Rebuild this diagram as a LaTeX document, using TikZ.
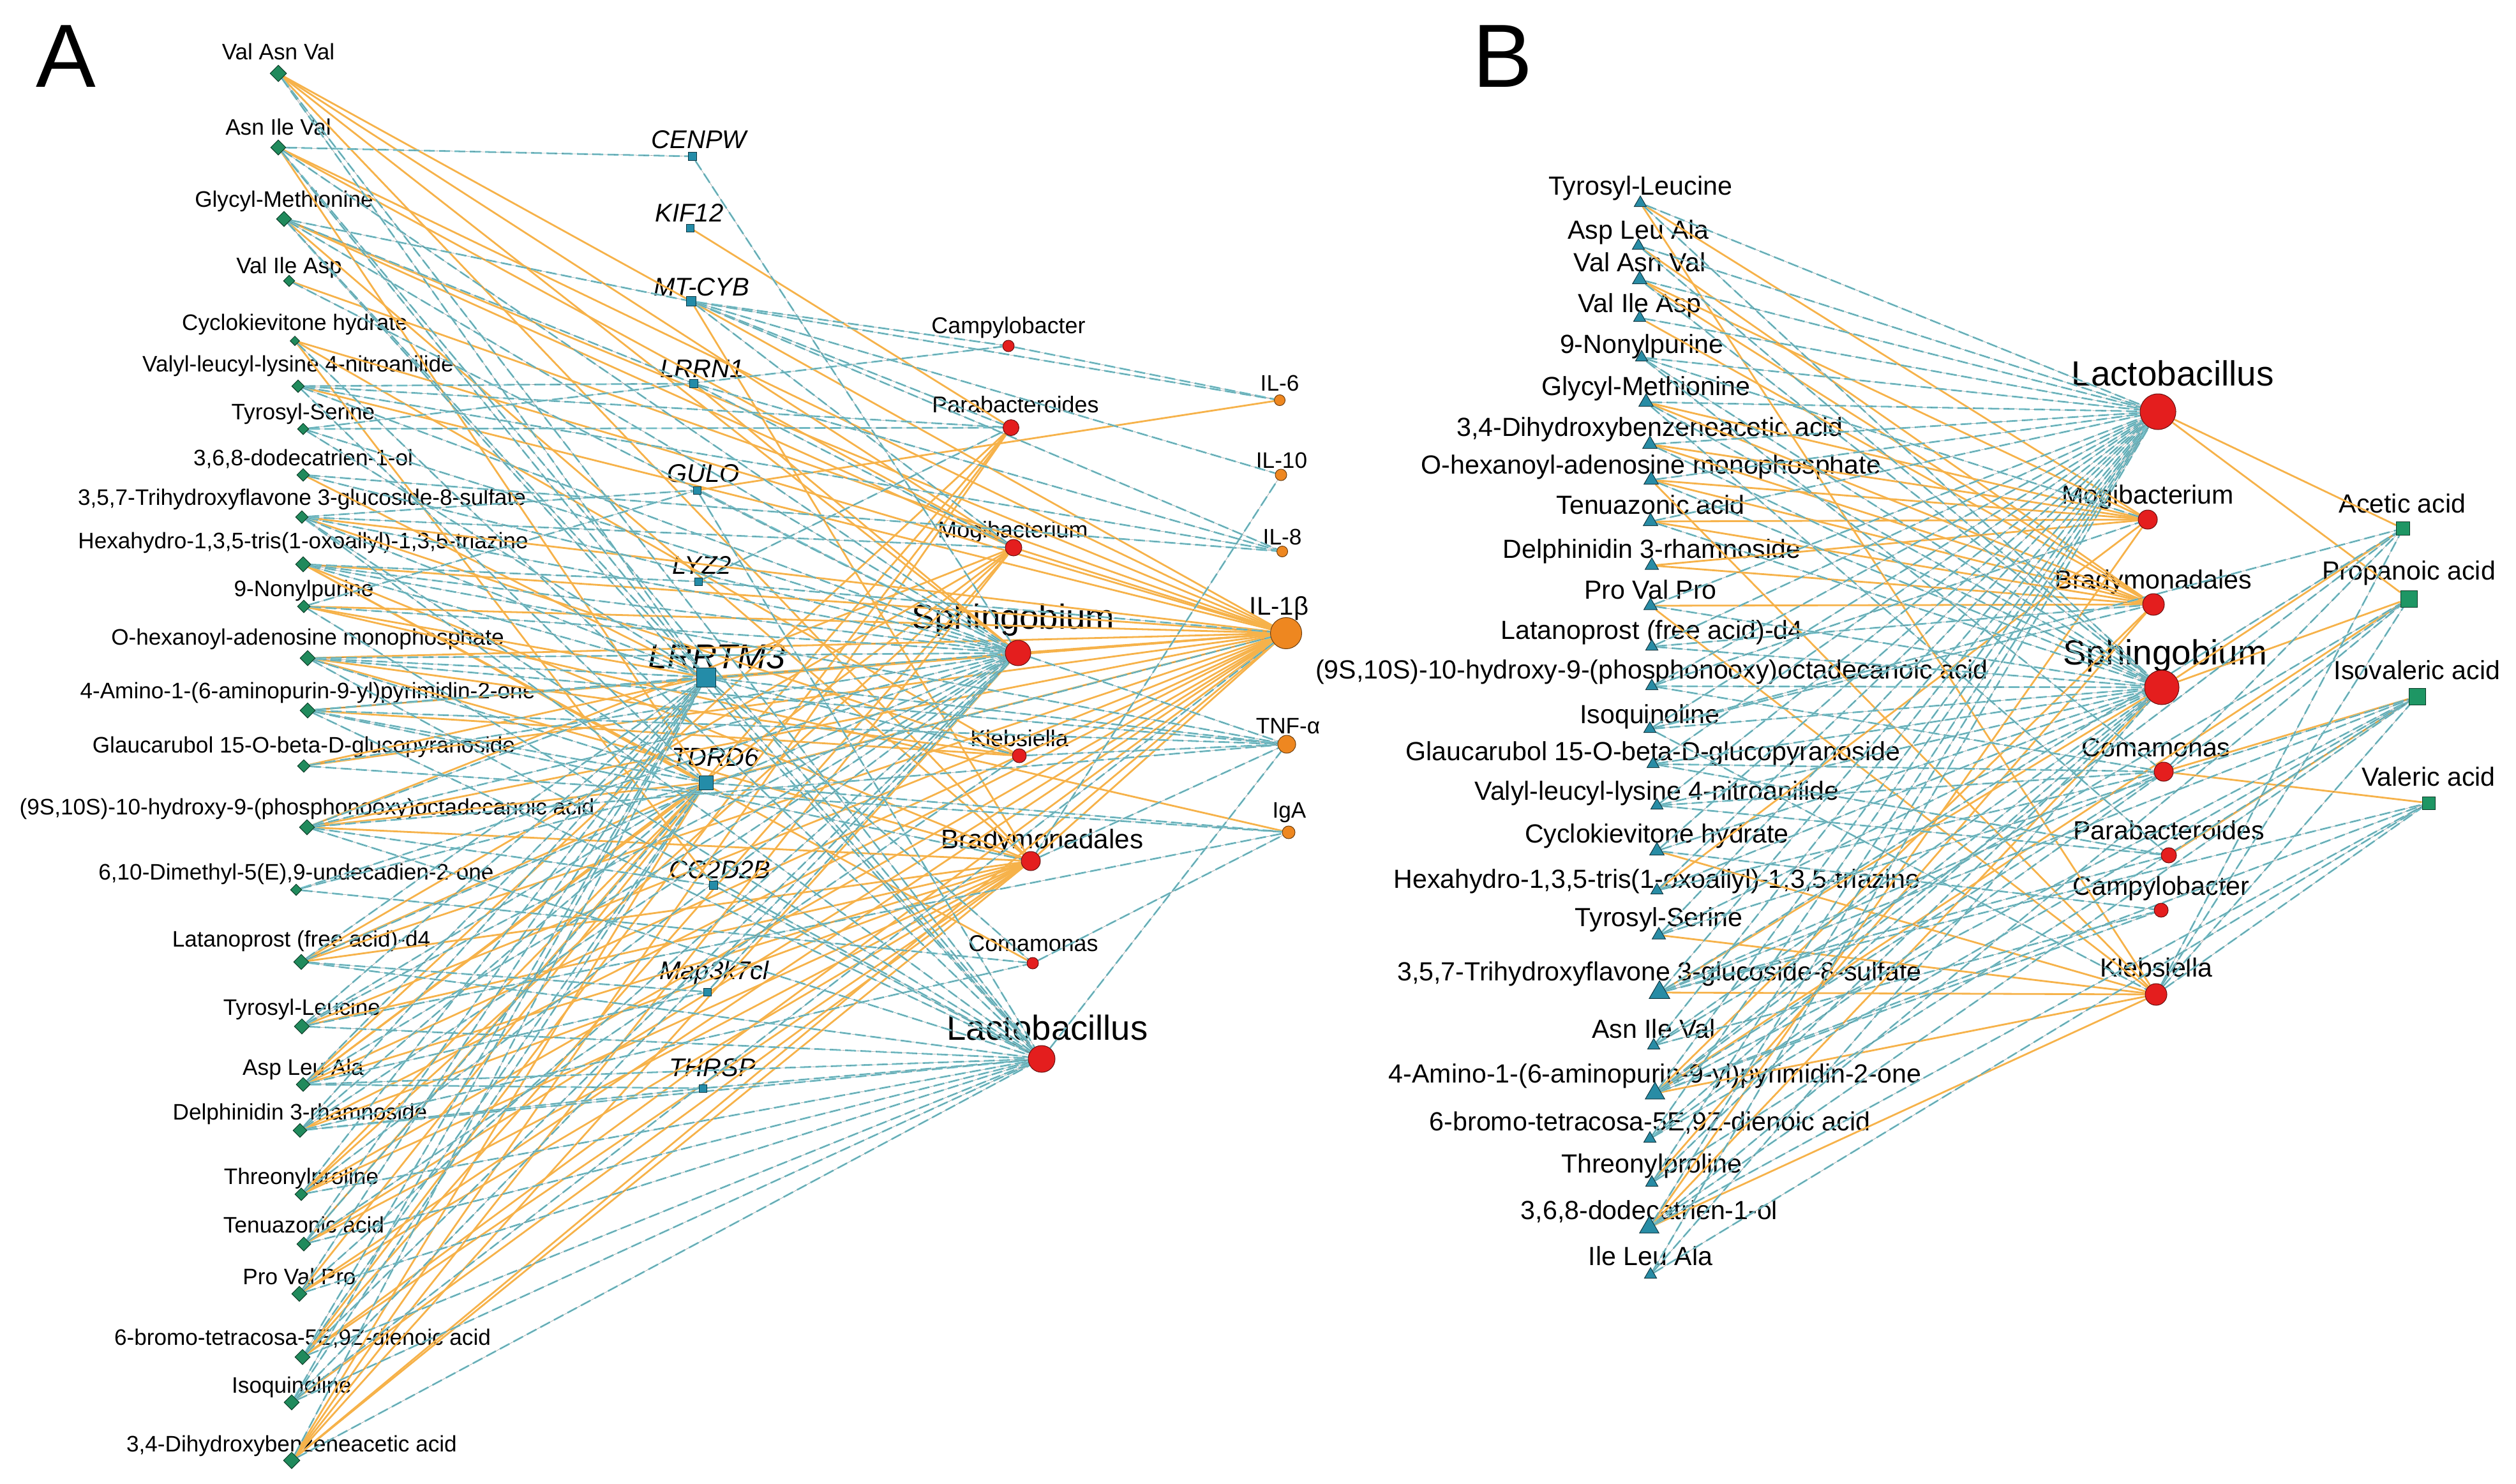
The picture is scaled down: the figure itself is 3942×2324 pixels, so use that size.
\documentclass[tikz,border=0pt]{standalone}
\usepackage{fontspec}
\setmainfont{Liberation Sans}
\usetikzlibrary{shapes.geometric}
\pgfdeclarelayer{labs}
\pgfdeclarelayer{edges}
\pgfsetlayers{labs,edges,main}
\definecolor{eorange}{RGB}{246,178,74}
\definecolor{ecyan}{RGB}{118,200,210}
\definecolor{mgreen}{RGB}{32,138,92}
\definecolor{gblue}{RGB}{36,140,168}
\definecolor{bred}{RGB}{228,30,30}
\definecolor{corange}{RGB}{238,135,32}
\definecolor{tblue}{RGB}{40,140,165}
\definecolor{sgreen}{RGB}{30,150,100}
\newcommand\fsz[1]{\fontsize{#1}{#1}\selectfont}
\tikzset{
  ep/.style={draw=eorange, line width=0.28mm},
  en/.style={draw=ecyan, line width=0.28mm, dash pattern=on 1.7mm off 0.7mm,
             postaction={draw=black!65, line width=0.08pt, solid}},
  dia/.style={diamond, fill=mgreen, draw=mgreen!45!black, line width=0.1mm, inner sep=0},
  gsq/.style={rectangle, fill=gblue, draw=gblue!40!black, line width=0.1mm, inner sep=0},
  bac/.style={circle, fill=bred, draw=bred!45!black, line width=0.1mm, inner sep=0},
  cyt/.style={circle, fill=corange, draw=corange!45!black, line width=0.1mm, inner sep=0},
  tri/.style={regular polygon, regular polygon sides=3, fill=tblue, draw=tblue!40!black, line width=0.1mm, inner sep=0},
  ssq/.style={rectangle, fill=sgreen, draw=sgreen!40!black, line width=0.1mm, inner sep=0},
  labA/.style={anchor=base, inner sep=0, font=\fsz{10pt}},
  labG/.style={anchor=base, inner sep=0, font=\fsz{11.4pt}\itshape},
  labS/.style={anchor=base, inner sep=0, font=\fsz{10.2pt}},
  labB/.style={anchor=base, inner sep=0, font=\fsz{11.7pt}},
  labBig/.style={anchor=base, inner sep=0, font=\fsz{15.5pt}},
  panel/.style={inner sep=0, font=\fsz{40pt}}
}
\begin{document}
\begin{tikzpicture}[x=0.1mm,y=-0.1mm]
\useasboundingbox (0,0) rectangle (3942,2324);
\node[panel] (pA) at (103,88) {A};
\node[panel] (pB) at (2354,88) {B};

% ---------------- Panel A metabolites ----------------
\foreach \i/\xx/\yy/\ly/\sz/\tx in {
 1/436/115/81/26/{Val Asn Val},
 2/436/231/199/24/{Asn Ile Val},
 3/445/343/312/24/{Glycyl-Methionine},
 4/453/440/416/18/{Val Ile Asp},
 5/462/534/505/15/{Cyclokievitone hydrate},
 6/467/605/570/20/{Valyl-leucyl-lysine 4-nitroanilide},
 7/475/672/645/18/{Tyrosyl-Serine},
 8/475/744/717/20/{3,6,8-dodecatrien-1-ol},
 9/473/810/779/20/{3,5,7-Trihydroxyflavone 3-glucoside-8-sulfate},
 10/475/884/847/24/{Hexahydro-1,3,5-tris(1-oxoallyl)-1,3,5-triazine},
 11/476/950/922/20/{9-Nonylpurine},
 12/482/1031/998/24/{O-hexanoyl-adenosine monophosphate},
 13/482/1113/1082/24/{4-Amino-1-(6-aminopurin-9-yl)pyrimidin-2-one},
 14/476/1200/1167/20/{Glaucarubol 15-O-beta-D-glucopyranoside},
 15/481/1296/1264/24/{(9S,10S)-10-hydroxy-9-(phosphonooxy)octadecanoic acid},
 16/464/1394/1366/18/{6,10-Dimethyl-5(E),9-undecadien-2-one},
 17/472/1507/1471/24/{Latanoprost (free acid)-d4},
 18/473/1608/1578/24/{Tyrosyl-Leucine},
 19/475/1699/1672/22/{Asp Leu Ala},
 20/470/1771/1742/22/{Delphinidin 3-rhamnoside},
 21/472/1871/1843/20/{Threonylproline},
 22/476/1949/1919/22/{Tenuazonic acid},
 23/469/2027/2000/24/{Pro Val Pro},
 24/474/2126/2095/24/{6-bromo-tetracosa-5E,9Z-dienoic acid},
 25/457/2197/2170/24/{Isoquinoline},
 26/457/2288/2262/26/{3,4-Dihydroxybenzeneacetic acid}}{
 \node[dia, minimum size=\sz*0.1mm] (a\i) at (\xx,\yy) {};
 \begin{pgfonlayer}{labs}
 \node[labA] (la\i) at (\xx,\ly+12.6) {\tx};
 \end{pgfonlayer}
}

% ---------------- Panel A genes ----------------
\node[gsq, minimum size=1.3mm] (g1) at (1085,245) {};
\node[gsq, minimum size=1.2mm] (g2) at (1081,357) {};
\node[gsq, minimum size=1.5mm] (g3) at (1083,472) {};
\node[gsq, minimum size=1.3mm] (g4) at (1087,601) {};
\node[gsq, minimum size=1.2mm] (g5) at (1092,768) {};
\node[gsq, minimum size=1.2mm] (g6) at (1094,911) {};
\node[gsq, minimum size=3.0mm] (g7) at (1106,1061) {};
\node[gsq, minimum size=2.2mm] (g8) at (1106,1226) {};
\node[gsq, minimum size=1.3mm] (g9) at (1118,1387) {};
\node[gsq, minimum size=1.2mm] (g10) at (1108,1554) {};
\node[gsq, minimum size=1.2mm] (g11) at (1101,1705) {};
\begin{pgfonlayer}{labs}
\node[labG] (lg1) at (1095,232) {CENPW};
\node[labG] (lg2) at (1080,347) {KIF12};
\node[labG] (lg3) at (1099,463) {MT-CYB};
\node[labG] (lg4) at (1100,591) {LRRN1};
\node[labG] (lg5) at (1102,755) {GULO};
\node[labG] (lg6) at (1100,899) {LYZ2};
\node[labG, font=\fsz{15.4pt}\itshape] (lg7) at (1123,1047) {LRRTM3};
\node[labG, font=\fsz{11.7pt}\itshape] (lg8) at (1121,1200) {TDRD6};
\node[labG] (lg9) at (1128,1376) {CC2D2B};
\node[labG] (lg10) at (1119,1534) {Map3k7cl};
\node[labG] (lg11) at (1116,1686) {THRSP};
\end{pgfonlayer}

% ---------------- Panel A bacteria ----------------
\node[bac, minimum size=1.8mm] (bCam) at (1580,542) {};
\node[bac, minimum size=2.5mm] (bP) at (1584,670) {};
\node[bac, minimum size=2.6mm] (bM) at (1588,858) {};
\node[bac, minimum size=4.0mm] (bS) at (1595,1023) {};
\node[bac, minimum size=2.2mm] (bK) at (1597,1184) {};
\node[bac, minimum size=3.0mm] (bB) at (1615,1349) {};
\node[bac, minimum size=1.8mm] (bC) at (1618,1509) {};
\node[bac, minimum size=4.2mm] (bL) at (1632,1659) {};
\begin{pgfonlayer}{labs}
\node[labS] (lbCam) at (1580,522) {Campylobacter};
\node[labS] (lbP) at (1591,646) {Parabacteroides};
\node[labS] (lbM) at (1587,842) {Mogibacterium};
\node[labBig] (lbS) at (1587,985) {Sphingobium};
\node[labS] (lbK) at (1597,1169) {Klebsiella};
\node[labS, font=\fsz{12pt}] (lbB) at (1633,1329) {Bradymonadales};
\node[labS] (lbC) at (1619,1490) {Comamonas};
\node[labBig] (lbL) at (1641,1629) {Lactobacillus};
\end{pgfonlayer}

% ---------------- Panel A cytokines ----------------
\node[cyt, minimum size=1.7mm] (c6) at (2005,627) {};
\node[cyt, minimum size=1.8mm] (c10) at (2007,744) {};
\node[cyt, minimum size=1.7mm] (c8) at (2009,864) {};
\node[cyt, minimum size=4.9mm] (cB) at (2015,992) {};
\node[cyt, minimum size=2.8mm] (cT) at (2016,1166) {};
\node[cyt, minimum size=2.0mm] (cA) at (2019,1304) {};
\begin{pgfonlayer}{labs}
\node[labA] (lc6) at (2005,612) {IL-6};
\node[labA] (lc10) at (2008,733) {IL-10};
\node[labA] (lc8) at (2009,853) {IL-8};
\node[labA, font=\fsz{11.4pt}] (lcB) at (2004,963) {IL-1β};
\node[labA] (lcT) at (2018,1149) {TNF-α};
\node[labA] (lcA) at (2020,1281) {IgA};
\end{pgfonlayer}

% ---------------- Panel B metabolites ----------------
\foreach \i/\xx/\yy/\ly/\sz/\tx in {
 1/2570/318/290/22/{Tyrosyl-Leucine},
 2/2567/385/359/22/{Asp Leu Ala},
 3/2569/438/410/26/{Val Asn Val},
 4/2569/498/474/22/{Val Ile Asp},
 5/2572/560/538/22/{9-Nonylpurine},
 6/2579/630/604/26/{Glycyl-Methionine},
 7/2585/696/668/26/{3,4-Dihydroxybenzeneacetic acid},
 8/2587/752/727/26/{O-hexanoyl-adenosine monophosphate},
 9/2586/817/790/26/{Tenuazonic acid},
 10/2588/886/859/24/{Delphinidin 3-rhamnoside},
 11/2586/949/923/24/{Pro Val Pro},
 12/2588/1013/986/22/{Latanoprost (free acid)-d4},
 13/2588/1075/1048/22/{(9S,10S)-10-hydroxy-9-(phosphonooxy)octadecanoic acid},
 14/2585/1142/1118/22/{Isoquinoline},
 15/2590/1197/1176/22/{Glaucarubol 15-O-beta-D-glucopyranoside},
 16/2596/1262/1238/22/{Valyl-leucyl-lysine 4-nitroanilide},
 17/2596/1333/1305/26/{Cyclokievitone hydrate},
 18/2596/1395/1376/22/{Hexahydro-1,3,5-tris(1-oxoallyl)-1,3,5-triazine},
 19/2599/1465/1436/24/{Tyrosyl-Serine},
 20/2600/1555/1521/37/{3,5,7-Trihydroxyflavone 3-glucoside-8-sulfate},
 21/2591/1638/1611/22/{Asn Ile Val},
 22/2593/1713/1681/35/{4-Amino-1-(6-aminopurin-9-yl)pyrimidin-2-one},
 23/2585/1784/1756/22/{6-bromo-tetracosa-5E,9Z-dienoic acid},
 24/2588/1853/1822/22/{Threonylproline},
 25/2584/1923/1895/35/{3,6,8-dodecatrien-1-ol},
 26/2586/1997/1967/22/{Ile Leu Ala}}{
 \node[tri, minimum size=\sz*0.1mm] (m\i) at (\xx,\yy) {};
 \begin{pgfonlayer}{labs}
 \node[labB] (lm\i) at (\xx,\ly+15) {\tx};
 \end{pgfonlayer}
}

% ---------------- Panel B bacteria and SCFA ----------------
\node[bac, minimum size=5.6mm] (Lb) at (3381,645) {};
\node[bac, minimum size=3.0mm] (Mb) at (3365,814) {};
\node[bac, minimum size=3.4mm] (Bb) at (3374,947) {};
\node[bac, minimum size=5.4mm] (Sb) at (3387,1077) {};
\node[bac, minimum size=3.0mm] (Cb) at (3390,1209) {};
\node[bac, minimum size=2.4mm] (Pb) at (3398,1340) {};
\node[bac, minimum size=2.2mm] (Yb) at (3386,1426) {};
\node[bac, minimum size=3.4mm] (Kb) at (3378,1558) {};
\node[ssq, minimum size=2.1mm] (sAc) at (3765,828) {};
\node[ssq, minimum size=2.6mm] (sPr) at (3774,938) {};
\node[ssq, minimum size=2.6mm] (sIv) at (3787,1091) {};
\node[ssq, minimum size=2.0mm] (sVa) at (3805,1258) {};
\begin{pgfonlayer}{labs}
\node[labBig, font=\fsz{15.6pt}] (lLb) at (3404,604) {Lactobacillus};
\node[labB] (lMb) at (3365,789) {Mogibacterium};
\node[labB] (lBb) at (3374,922) {Bradymonadales};
\node[labBig, font=\fsz{15.6pt}] (lSb) at (3392,1041) {Sphingobium};
\node[labB] (lCb) at (3378,1185) {Comamonas};
\node[labB] (lPb) at (3398,1315) {Parabacteroides};
\node[labB] (lYb) at (3386,1402) {Campylobacter};
\node[labB] (lKb) at (3378,1530) {Klebsiella};
\node[labB] (lsAc) at (3764,803) {Acetic acid};
\node[labB] (lsPr) at (3774,908) {Propanoic acid};
\node[labB] (lsIv) at (3787,1064) {Isovaleric acid};
\node[labB] (lsVa) at (3805,1231) {Valeric acid};
\end{pgfonlayer}

% ---------------- Edges ----------------
\begin{pgfonlayer}{edges}
% Panel A positive
\foreach \s/\t in {a1/bS, a26/bS, g4/bS, bS/cB,
 a2/cB, a3/cB, a4/cB, a5/cB, a6/cB, a9/cB, a10/cB, a11/cB, a12/cB, a13/cB, a14/cB, a15/cB, a17/cB, a18/cB, a19/cB, a20/cB, a21/cB, a22/cB, a23/cB, a24/cB, a26/cB, g3/cB, g7/cB, g8/cB, bM/cB, bB/cB,
 a8/g7, a11/g7, a14/g7,
 a2/g8, a10/g8, a15/g8, a17/g8, a19/g8, a21/g8, a23/g8, a26/g8,
 a1/bB, a3/bB, a10/bB, a12/bB, a15/bB, a17/bB, a18/bB, a19/bB, a20/bB, a21/bB, a22/bB, a23/bB, a24/bB, a25/bB, a26/bB, g3/bB,
 a1/bM, a2/bM, a3/bM, a15/bM, a17/bM, a19/bM, a21/bM, a24/bM, a26/bM,
 g2/bP, a24/bP, a26/bP, a19/bP, a22/bP,
 a12/bK, a9/bK, a13/bK, a5/bK,
 a10/bC, g5/c6, a11/cA, a1/g3, a5/g9}
 {\draw[ep] (\s) -- (\t);}
% Panel A negative
\foreach \s/\t in {a2/bS, a3/bS, a4/bS, a6/bS, a7/bS, a8/bS, a9/bS, a10/bS, a11/bS, a12/bS, a13/bS, a14/bS, a15/bS, a16/bS, a17/bS, a18/bS, a19/bS, a20/bS, a21/bS, a23/bS, a24/bS, a25/bS, g1/bS, g5/bS, g10/bS, bS/cT,
 a1/bL, a2/bL, a3/bL, a5/bL, a9/bL, a11/bL, a12/bL, a13/bL, a15/bL, a17/bL, a18/bL, a19/bL, a20/bL, a21/bL, a22/bL, a23/bL, a24/bL, a25/bL, a26/bL, g5/bL, g7/bL, g9/bL, g11/bL, bL/cT,
 a16/cB, a25/cB, g6/cB,
 a1/g7, a2/g7, a3/g7, a7/g7, a9/g7, a10/g7, a12/g7, a13/g7, a15/g7, a17/g7, a18/g7, a19/g7, a20/g7, a21/g7, a22/g7, a23/g7, a24/g7, a25/g7, a26/g7, g7/bK, g7/bC, g7/cT,
 a6/g8, a9/g8, a12/g8, a13/g8, a18/g8, a20/g8, a22/g8, a24/g8, a25/g8, g8/cA,
 a13/bB, bB/c10, bB/cT,
 a9/bM, g4/bM, g3/bM,
 g3/bP, a7/bP, a6/bP, g6/bP,
 a22/bK, bK/cT,
 a20/bC, a16/bC, bC/cA,
 g3/bCam, a7/bCam, bCam/c6,
 g3/c6, g3/c10, g4/c8, g3/c8, a6/c8, a8/c8,
 a10/cT, a12/cT, a13/cT, a15/cT,
 a18/cA, a14/cA,
 a2/g1, a3/g3, a3/g4, a6/g4, a9/g5, a11/g5, a10/g6, a15/g9, a17/g10, a19/g10, a19/g11, a20/g11}
 {\draw[en] (\s) -- (\t);}
% Panel B positive
\foreach \s/\t in {m1/Mb, m3/Mb, m6/Mb, m7/Mb, m8/Mb, m9/Mb, m10/Mb, m25/Mb, m18/Mb,
 m2/Bb, m3/Bb, m4/Bb, m6/Bb, m7/Bb, m9/Bb, m10/Bb, m11/Bb, m22/Bb, m8/Bb, m24/Bb,
 m20/Sb, m25/Sb,
 m1/Kb, m11/Kb, m19/Kb, m20/Kb, m22/Kb, m25/Kb, m8/Kb, m17/Kb,
 Lb/sAc, Sb/sAc, Lb/sPr, Sb/sPr, m22/sPr, Cb/sIv, Pb/sIv, Cb/sVa}
 {\draw[ep] (\s) -- (\t);}
% Panel B negative
\foreach \s/\t in {m1/Lb, m2/Lb, m3/Lb, m4/Lb, m5/Lb, m6/Lb, m7/Lb, m8/Lb, m9/Lb, m11/Lb, m12/Lb, m13/Lb, m14/Lb, m15/Lb, m16/Lb, m17/Lb, m18/Lb, m19/Lb, m20/Lb, m21/Lb, m22/Lb, m23/Lb, m24/Lb, m25/Lb, m26/Lb,
 m5/Mb, m13/Mb, m12/Bb, m14/Bb,
 m1/Sb, m2/Sb, m3/Sb, m5/Sb, m6/Sb, m7/Sb, m8/Sb, m9/Sb, m11/Sb, m12/Sb, m13/Sb, m14/Sb, m15/Sb, m16/Sb, m17/Sb, m18/Sb, m19/Sb, m21/Sb, m22/Sb, m23/Sb, m24/Sb, m26/Sb,
 m5/Cb, m13/Cb, m16/Cb, m18/Cb, m20/Cb, m22/Cb, m15/Cb,
 m6/Pb, m15/Pb, m16/Pb, m20/Pb,
 m17/Yb, m21/Yb, m22/Yb,
 m14/Kb,
 Kb/sAc, Cb/sAc, m20/sAc, m22/sAc, m14/sAc,
 Kb/sPr, m21/sPr, m25/sPr, m23/sPr,
 Kb/sIv, m20/sIv, m22/sIv, m23/sIv, m25/sIv, m19/sIv, m24/sIv,
 Kb/sVa, m20/sVa, m22/sVa, m26/sVa, m25/sVa}
 {\draw[en] (\s) -- (\t);}
\end{pgfonlayer}
\end{tikzpicture}
\end{document}
